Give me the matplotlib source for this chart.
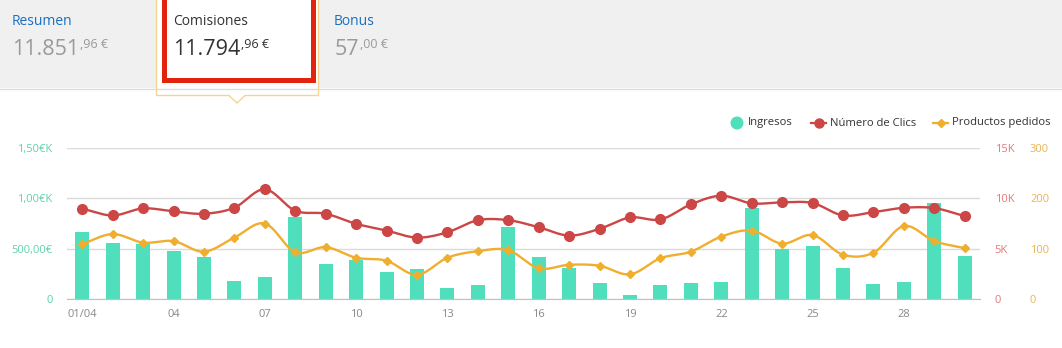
import matplotlib
matplotlib.use("Agg")
import matplotlib.pyplot as plt
import numpy as np
from matplotlib.patches import Rectangle, Polygon, Circle
from matplotlib.lines import Line2D

# daily values for April
ingresos = [670, 559, 549, 480, 420, 182, 221, 817, 350, 390, 271, 301, 112, 142, 718,
            420, 311, 162, 43, 142, 163, 165, 900, 500, 522, 304, 145, 165, 956, 423]
clics = [8970, 8300, 9000, 8700, 8470, 9070, 10900, 8770, 8470, 7470, 6800, 6100, 6630, 7830, 7830,
         7130, 6300, 6970, 8100, 7900, 9400, 10260, 9500, 9600, 9530, 8300, 8630, 9060, 9030, 8230]
productos = [109, 129, 112, 115, 94, 122, 150, 93, 103, 82, 76, 48, 82, 95, 97,
             61, 68, 66, 49, 81, 94, 124, 136, 110, 127, 88, 92, 145, 115, 101]
xtick_pos = [0, 3, 6, 9, 12, 15, 18, 21, 24, 27]
xtick_labels = ["01/04", "04", "07", "10", "13", "16", "19", "22", "25", "28"]
left_ticks = [0, 500, 1000, 1500]
left_labels = ["0", "500,00€", "1,00€K", "1,50€K"]
clic_ticks = [0, 5000, 10000, 15000]
clic_labels = ["0", "5K", "10K", "15K"]
prod_ticks = [0, 100, 200, 300]
prod_labels = ["0", "100", "200", "300"]

tabs = ["Resumen", "Comisiones", "Bonus"]
tab_units = ["11.851", "11.794", "57"]
tab_cents = [",96 €", ",96 €", ",00 €"]

TEAL = "#50dfbc"
RED = "#cc4646"
ORANGE = "#f0ae2e"

plt.rcParams["font.family"] = ["Open Sans", "DejaVu Sans"]


def spline(y, n=20):
    """Catmull-Rom curve through the points, sampled along x."""
    y = np.asarray(y, dtype=float)
    x = np.arange(len(y), dtype=float)
    m = np.gradient(y)
    xs, ys = [], []
    for i in range(len(y) - 1):
        t = np.linspace(0, 1, n, endpoint=False)
        h00 = 2 * t**3 - 3 * t**2 + 1
        h10 = t**3 - 2 * t**2 + t
        h01 = -2 * t**3 + 3 * t**2
        h11 = t**3 - t**2
        xs.append(x[i] + t)
        ys.append(h00 * y[i] + h10 * m[i] + h01 * y[i + 1] + h11 * m[i + 1])
    xs.append([x[-1]])
    ys.append([y[-1]])
    return np.concatenate(xs), np.concatenate(ys)


W, H = 1062, 348
fig = plt.figure(figsize=(W / 100, H / 100), dpi=100)

# header strip, drawn in pixel coordinates
deco = fig.add_axes([0, 0, 1, 1], zorder=0)
deco.set_xlim(0, W)
deco.set_ylim(H, 0)
deco.axis("off")
deco.add_patch(Rectangle((0, 0), W, 88, facecolor="#f0f0f0", edgecolor="none"))
deco.plot([0, W], [88.5, 88.5], color="#dcdcdc", lw=1)
# active tab with its pointer
deco.add_patch(Polygon([(156.5, 0), (156.5, 95.5), (229, 95.5), (237, 103), (245, 95.5),
                        (318.5, 95.5), (318.5, 0)],
                       closed=False, facecolor="white", edgecolor="#f6d490", lw=1))
deco.add_patch(Rectangle((163.5, -3), 149, 82.5, facecolor="none", edgecolor="#e2240e", lw=3.6))

tab_x = [12, 173, 334]
for i, (name, units, cents) in enumerate(zip(tabs, tab_units, tab_cents)):
    active = i == 1
    deco.text(tab_x[i], 25, name, fontsize=10, va="baseline",
              color="#333333" if active else "#1a6fc0")
    t = deco.text(tab_x[i] + 0.5, 55, units, fontsize=15.5, va="baseline",
                  color="#333333" if active else "#9a9a9a")
    fig.canvas.draw()
    bb = t.get_window_extent()
    deco.text(bb.x1 + 0.5, 48, cents, fontsize=9, va="baseline",
              color="#333333" if active else "#9a9a9a")

# legend
deco.add_patch(Circle((737, 123), 6.5, facecolor=TEAL, edgecolor="none"))
deco.text(748, 123, "Ingresos", fontsize=8.1, va="center", color="#333333")
deco.add_line(Line2D([811, 826], [123, 123], color=RED, lw=1.6))
deco.plot([818.5], [123], "o", color=RED, ms=6.5)
deco.text(830, 123, "Número de Clics", fontsize=8.1, va="center", color="#333333")
deco.add_line(Line2D([933, 948], [123, 123], color=ORANGE, lw=1.6))
deco.plot([940.5], [123], "D", color=ORANGE, ms=4.5)
deco.text(952, 123, "Productos pedidos", fontsize=8.1, va="center", color="#333333")

# chart
ax = fig.add_axes([67 / W, 49 / H, 913 / W, 151 / H], zorder=1)
ax.patch.set_alpha(0)
x = np.arange(len(ingresos))
ax.bar(x, ingresos, width=0.46, color=TEAL, zorder=2)
ax.set_xlim(-0.5, len(ingresos) - 0.5)
ax.set_ylim(0, 1500)
ax.set_yticks(left_ticks)
ax.set_yticklabels(left_labels)
ax.set_xticks(xtick_pos)
ax.set_xticklabels(xtick_labels)
ax.grid(axis="y", color="#dadada", lw=1)
ax.set_axisbelow(True)
for s in ["top", "left", "right"]:
    ax.spines[s].set_visible(False)
ax.spines["bottom"].set_color("#b8c2cc")
ax.spines["bottom"].set_zorder(3)
ax.tick_params(axis="y", length=0, pad=10.5, labelsize=8, labelcolor="#5cd3ae")
ax.tick_params(axis="x", length=0, pad=7, labelsize=8, labelcolor="#888888")

ax_c = ax.twinx()
ax_c.set_ylim(0, 15000)
ax_c.set_yticks(clic_ticks)
ax_c.set_yticklabels(clic_labels)
ax_c.tick_params(axis="y", length=0, pad=10.5, labelsize=8, labelcolor="#e07a7a")
sx, sy = spline(clics)
ax_c.plot(sx, sy, color=RED, lw=1.7, zorder=3)
ax_c.plot(x, clics, "o", color=RED, ms=7, zorder=4)

ax_p = ax.twinx()
ax_p.set_ylim(0, 300)
ax_p.set_yticks(prod_ticks)
ax_p.set_yticklabels(prod_labels)
ax_p.tick_params(axis="y", length=0, pad=36, labelsize=8, labelcolor="#e8b455")
sx, sy = spline(productos)
ax_p.plot(sx, sy, color=ORANGE, lw=1.7, zorder=3)
ax_p.plot(x, productos, "D", color=ORANGE, ms=4.5, zorder=4)

for a in (ax_c, ax_p):
    for s in a.spines.values():
        s.set_visible(False)

fig.savefig("out.png", dpi=100, facecolor="white")
